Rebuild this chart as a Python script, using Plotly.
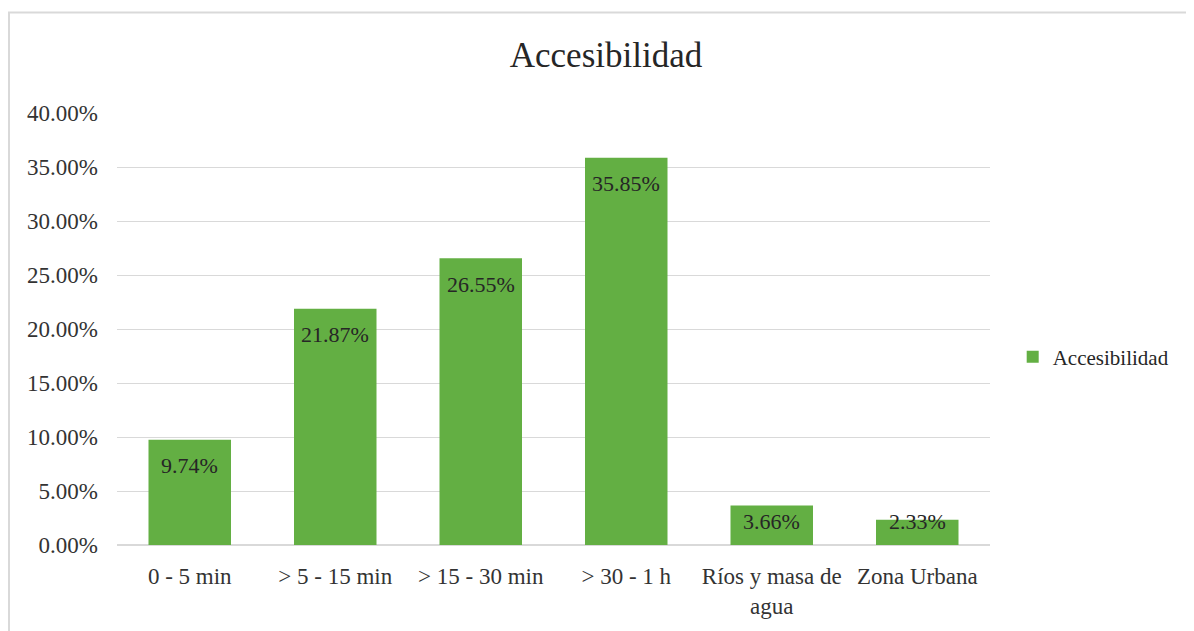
import plotly.graph_objects as go

categorias = ["0 - 5 min", "> 5 - 15 min", "> 15 - 30 min", "> 30 - 1 h",
              "Ríos y masa de<br>agua", "Zona Urbana"]
valores = [0.0974, 0.2187, 0.2655, 0.3585, 0.0366, 0.0233]
etiquetas = ["9.74%", "21.87%", "26.55%", "35.85%", "3.66%", "2.33%"]

verde = "#63AF43"
gris = "#D9D9D9"
fuente = "Liberation Serif"

fig = go.Figure()
fig.add_trace(go.Bar(
    x=categorias, y=valores, name="Accesibilidad",
    marker=dict(color=verde, line=dict(width=0)),
))

# etiquetas dentro del extremo de la barra (como en Excel)
for c, v, t in zip(categorias, valores, etiquetas):
    fig.add_annotation(
        x=c, y=max(v - 0.024, 0.022), text=t, showarrow=False,
        yanchor="middle", font=dict(family=fuente, size=22, color="#262626"),
    )

# marco del grafico
fig.add_shape(type="rect", xref="paper", yref="paper",
              x0=-0.1237, x1=1.25, y0=-0.25, y1=1.2327,
              line=dict(color=gris, width=2), layer="below")

fig.update_layout(
    width=1186, height=623,
    margin=dict(l=109, r=204, t=105, b=84),
    template="plotly_white",
    plot_bgcolor="white", paper_bgcolor="white",
    bargap=0.433,
    font=dict(family=fuente, size=23, color="#333333"),
    title=dict(text="Accesibilidad", x=0.5042, xanchor="center",
               y=0.9246, yanchor="middle",
               font=dict(family=fuente, size=35, color="#262626")),
    showlegend=True,
    legend=dict(x=1.026, y=0.435, xanchor="left", yanchor="middle",
                itemwidth=30, borderwidth=0,
                font=dict(family=fuente, size=21, color="#262626")),
    xaxis=dict(showgrid=False, showline=False, ticks="",
               ticklabelstandoff=15, tickfont=dict(size=23)),
    yaxis=dict(range=[0, 0.4], dtick=0.05, tickformat=".2%",
               gridcolor=gris, gridwidth=1.2, zeroline=True,
               zerolinecolor=gris, zerolinewidth=1.5, showline=False,
               ticks="", ticklabelstandoff=18, tickfont=dict(size=23)),
)

fig.write_html("out.html")
